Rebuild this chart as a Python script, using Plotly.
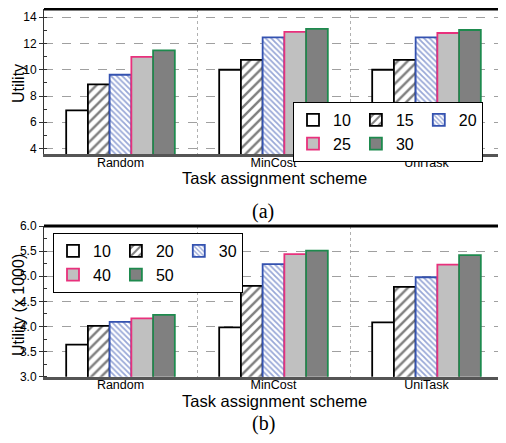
import plotly.graph_objects as go

schemes = ["Random", "MinCost", "UniTask"]

# Panel (a)
labels_a = ["10", "15", "20", "25", "30"]
vals_a = {
    "10": [6.9, 10.0, 10.0],
    "15": [8.88, 10.76, 10.76],
    "20": [9.62, 12.47, 12.47],
    "25": [10.99, 12.88, 12.8],
    "30": [11.48, 13.12, 13.03],
}
# Panel (b)
labels_b = ["10", "20", "30", "40", "50"]
vals_b = {
    "10": [3.64, 3.98, 4.08],
    "20": [4.01, 4.81, 4.79],
    "30": [4.09, 5.24, 4.98],
    "40": [4.16, 5.44, 5.23],
    "50": [4.23, 5.51, 5.42],
}

FONT = "Liberation Sans, Arial, sans-serif"
SERIF = "Liberation Serif, Times New Roman, serif"
BLUE = "#3452b0"
PINK = "#e8307c"
GREEN = "#1e8a4e"

styles = [
    dict(color="white", line=dict(color="black", width=1.8)),
    dict(color="white", line=dict(color="black", width=1.8),
         pattern=dict(shape="/", fgcolor="black", bgcolor="white", size=7, solidity=0.35)),
    dict(color="white", line=dict(color=BLUE, width=1.8),
         pattern=dict(shape="\\", fgcolor=BLUE, bgcolor="white", size=4, solidity=0.45)),
    dict(color="#c0c0c0", line=dict(color=PINK, width=1.8)),
    dict(color="#808080", line=dict(color=GREEN, width=1.8)),
]
groups = ["A", "B", "C", "A", "B"]

fig = go.Figure()
for i, lab in enumerate(labels_a):
    fig.add_trace(go.Bar(x=schemes, y=vals_a[lab], name=lab, marker=styles[i],
                         xaxis="x", yaxis="y", legend="legend",
                         legendgroup="a" + groups[i]))
for i, lab in enumerate(labels_b):
    fig.add_trace(go.Bar(x=schemes, y=vals_b[lab], name=lab, marker=styles[i],
                         xaxis="x2", yaxis="y2", legend="legend2",
                         legendgroup="b" + groups[i]))

# page body has an 8px default margin; map window pixels to figure fractions
OFF = 8
W, H = 506 - OFF, 443 - OFF
def px(x):
    return (x - OFF) / W
def py(y):
    return min(1.0, max(0.0, 1 - (y - OFF) / H))

xcommon = dict(
    type="category", tickson="boundaries", ticks="", ticklen=0, showgrid=True,
    gridcolor="#b0b0b0", griddash="dot", gridwidth=1,
    showline=True, linecolor="#555555", linewidth=2.5,
    tickfont=dict(family=FONT, size=12.5, color="black"),
    ticklabelstandoff=-5,
    automargin=False,
)
ycommon = dict(
    showgrid=True, gridcolor="#a0a0a0", griddash="dash", gridwidth=1,
    showline=True, linecolor="#333333", linewidth=1, mirror=True,
    ticks="outside", ticklen=4, tickcolor="#333333",
    minor=dict(ticks="inside", ticklen=3, tickcolor="#333333", showgrid=False),
    tickfont=dict(family=FONT, size=12, color="black"),
    zeroline=False, automargin=False,
)

def ann(text, x, y, size, family=FONT, angle=0):
    return dict(text=text, xref="paper", yref="paper", x=px(x), y=py(y),
                xanchor="center", yanchor="middle", showarrow=False, textangle=angle,
                font=dict(family=family, size=size, color="black"))

fig.update_layout(
    width=W, height=H, margin=dict(l=0, r=0, t=0, b=0),
    plot_bgcolor="white", paper_bgcolor="white",
    barmode="group", bargap=0.29, bargroupgap=0,
    font=dict(family=FONT, color="black"),
    xaxis=dict(xcommon, domain=[px(44), px(503)], anchor="y"),
    yaxis=dict(ycommon, domain=[py(154.3), py(9)], anchor="x",
               range=[3.56, 14.63], tick0=4, dtick=2, minor_dtick=1),
    xaxis2=dict(xcommon, domain=[px(44), px(503)], anchor="y2"),
    yaxis2=dict(ycommon, domain=[py(376.7), py(226)], anchor="x2",
                range=[3.0, 6.0], tick0=3, dtick=0.5, minor_dtick=0.25,
                tickformat=".1f"),
    legend=dict(orientation="h", traceorder="grouped", x=px(483), xanchor="right",
                y=py(102), yanchor="top", bgcolor="white", bordercolor="black",
                borderwidth=1, font=dict(family=FONT, size=16, color="black"),
                tracegroupgap=0, itemclick=False),
    legend2=dict(orientation="h", traceorder="grouped", x=px(53), xanchor="left",
                 y=py(233), yanchor="top", bgcolor="white", bordercolor="black",
                 borderwidth=1, font=dict(family=FONT, size=16, color="black"),
                 tracegroupgap=0, itemclick=False),
    shapes=[
        dict(type="line", xref="x domain", yref="y domain", x0=0, x1=1, y0=1, y1=1,
             line=dict(color="black", width=3)),
        dict(type="line", xref="x2 domain", yref="y2 domain", x0=0, x1=1, y0=1, y1=1,
             line=dict(color="black", width=3)),
    ],
    annotations=[
        ann("Task assignment scheme", 274, 178, 16.5),
        ann("Task assignment scheme", 274, 401, 16.5),
        ann("Utility", 18, 84, 16, angle=-90),
        ann("Utility (x 1000)", 18, 305, 16, angle=-90),
        ann("(a)", 263, 211, 20, family=SERIF),
        ann("(b)", 263, 423, 20, family=SERIF),
    ],
)

fig.write_html("out.html")
